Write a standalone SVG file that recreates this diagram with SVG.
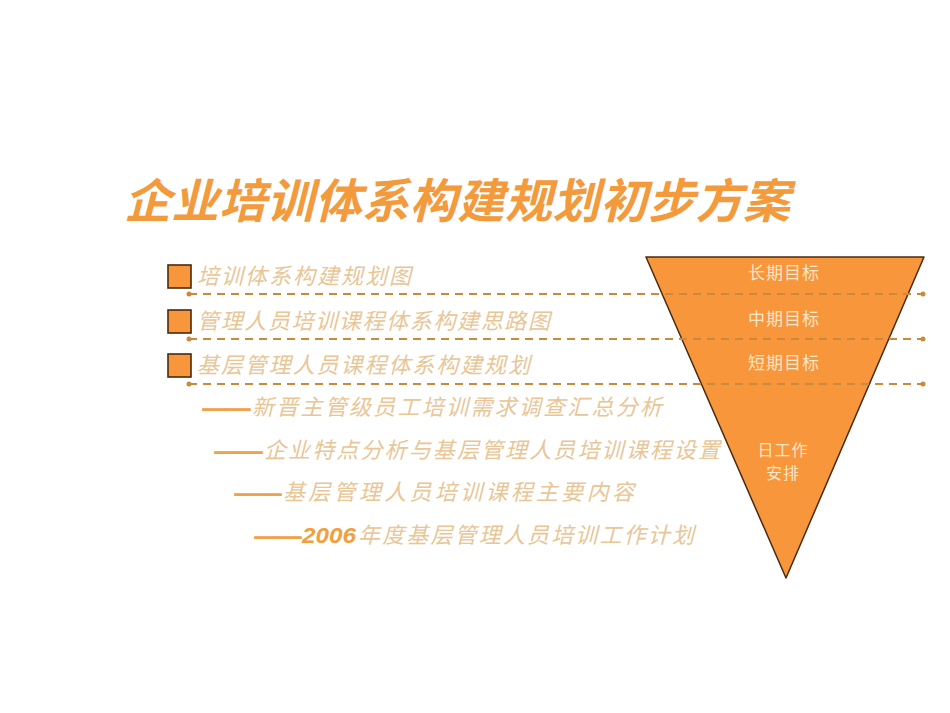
<svg xmlns="http://www.w3.org/2000/svg" width="950" height="713" viewBox="0 0 950 713">
<style>
.title{font-family:"Liberation Sans","Noto Sans CJK SC",sans-serif;font-size:47px;font-weight:bold;font-style:italic;fill:#f39a3c}
.item{font-family:"Liberation Serif","Noto Sans CJK SC",serif;font-size:22px;font-style:italic;fill:#e8c696}
.dash{font-family:"Liberation Serif","Noto Sans CJK SC",serif;font-size:22px;font-weight:bold;fill:#f0a24a;stroke:#f0a24a;stroke-width:1.2}
.num{font-family:"Liberation Sans",sans-serif;font-size:22px;font-weight:bold;font-style:italic;fill:#f0a040}
.lbl{font-family:"Noto Sans CJK SC",sans-serif;font-size:17px;fill:#fbe6c8;text-anchor:middle;letter-spacing:1px}
.lbl2{font-size:16px}
.box{fill:#f7963b;stroke:#4a2a10;stroke-width:1.6}
.dl{stroke:#c98a3e;stroke-width:2;stroke-dasharray:8 6;fill:none}
.dot{fill:#c98a3e}
</style>
<rect width="950" height="713" fill="#ffffff"/>
<text class="title" x="124" y="218" textLength="666" lengthAdjust="spacing">企业培训体系构建规划初步方案</text>
<g id="funnel">
<polygon points="646,257 924,257 786,578" fill="#f7963b" stroke="#4a2a10" stroke-width="1.5" stroke-linejoin="round"/>
<text class="lbl" x="784" y="279">长期目标</text>
<text class="lbl" x="784" y="325">中期目标</text>
<text class="lbl" x="784" y="369">短期目标</text>
<text class="lbl lbl2" x="783" y="456">日工作</text>
<text class="lbl lbl2" x="783" y="479">安排</text>
</g>
<g id="connectors">
<line class="dl" x1="189" y1="294" x2="923" y2="294"/>
<line class="dl" x1="189" y1="339" x2="923" y2="339"/>
<line class="dl" x1="189" y1="384" x2="923" y2="384"/>
<circle class="dot" cx="189" cy="294" r="2.5"/><circle class="dot" cx="923" cy="294" r="2.5"/>
<circle class="dot" cx="189" cy="339" r="2.5"/><circle class="dot" cx="923" cy="339" r="2.5"/>
<circle class="dot" cx="189" cy="384" r="2.5"/><circle class="dot" cx="923" cy="384" r="2.5"/>
</g>
<g id="item1"><rect class="box" x="168" y="265" width="23" height="23"/><text class="item" x="197" y="284" textLength="214" lengthAdjust="spacing">培训体系构建规划图</text></g>
<g id="item2"><rect class="box" x="168" y="310" width="23" height="23"/><text class="item" x="197" y="329" textLength="353" lengthAdjust="spacing">管理人员培训课程体系构建思路图</text></g>
<g id="item3"><rect class="box" x="168" y="354" width="23" height="23"/><text class="item" x="197" y="373" textLength="333" lengthAdjust="spacing">基层管理人员课程体系构建规划</text></g>
<g id="sub1"><text class="dash" x="203" y="415" textLength="47" lengthAdjust="spacingAndGlyphs">——</text><text class="item" x="252" y="415" textLength="410" lengthAdjust="spacing">新晋主管级员工培训需求调查汇总分析</text></g>
<g id="sub2"><text class="dash" x="215" y="458" textLength="47" lengthAdjust="spacingAndGlyphs">——</text><text class="item" x="264" y="458" textLength="456" lengthAdjust="spacing">企业特点分析与基层管理人员培训课程设置</text></g>
<g id="sub3"><text class="dash" x="235" y="500" textLength="46" lengthAdjust="spacingAndGlyphs">——</text><text class="item" x="283" y="500" textLength="351" lengthAdjust="spacing">基层管理人员培训课程主要内容</text></g>
<g id="sub4"><text class="dash" x="255" y="543" textLength="46" lengthAdjust="spacingAndGlyphs">——</text><text class="num" x="302" y="543" textLength="54" lengthAdjust="spacingAndGlyphs">2006</text><text class="item" x="358" y="543" textLength="336" lengthAdjust="spacing">年度基层管理人员培训工作计划</text></g>
</svg>
